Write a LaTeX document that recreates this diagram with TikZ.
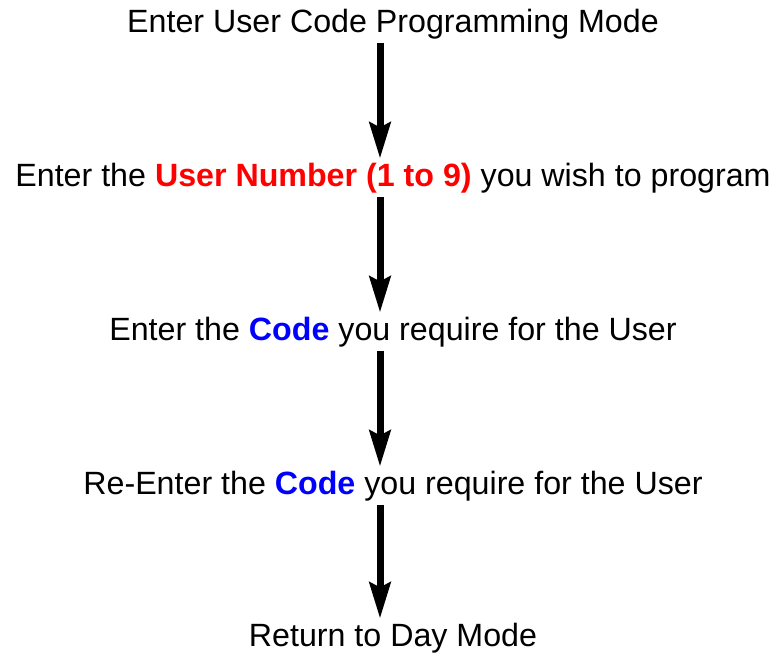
\documentclass[tikz,border=0pt]{standalone}
\usepackage{fontspec}
\setmainfont{Liberation Sans}
\usetikzlibrary{arrows.meta}
\definecolor{numred}{RGB}{255,0,0}
\definecolor{codeblue}{RGB}{0,0,255}
\begin{document}
\begin{tikzpicture}[x=1pt, y=-1pt,
    step text/.style={black, anchor=base, inner sep=4pt, font=\fontsize{32.2}{38}\selectfont},
    flow/.style={draw=black, line width=7pt, -{Stealth[length=36pt, width=21pt, inset=5pt]}}]
    \useasboundingbox (0,0) rectangle (777,657);
    \coordinate (ax) at (380,0);
    \node[step text] (enter) at (393,32) {Enter User Code Programming Mode};
    \node[step text] (user) at (393,186) {Enter the \textbf{\color{numred}User Number (1 to 9)} you wish to program};
    \node[step text] (code) at (393,340) {Enter the \textbf{\color{codeblue}Code} you require for the User};
    \node[step text] (recode) at (393,494) {Re-Enter the \textbf{\color{codeblue}Code} you require for the User};
    \node[step text] (day) at (393,646) {Return to Day Mode};
    \draw[flow] (enter.south -| ax) -- (user.north -| ax);
    \draw[flow] (user.south -| ax) -- (code.north -| ax);
    \draw[flow] (code.south -| ax) -- (recode.north -| ax);
    \draw[flow] (recode.south -| ax) -- (day.north -| ax);
\end{tikzpicture}
\end{document}
